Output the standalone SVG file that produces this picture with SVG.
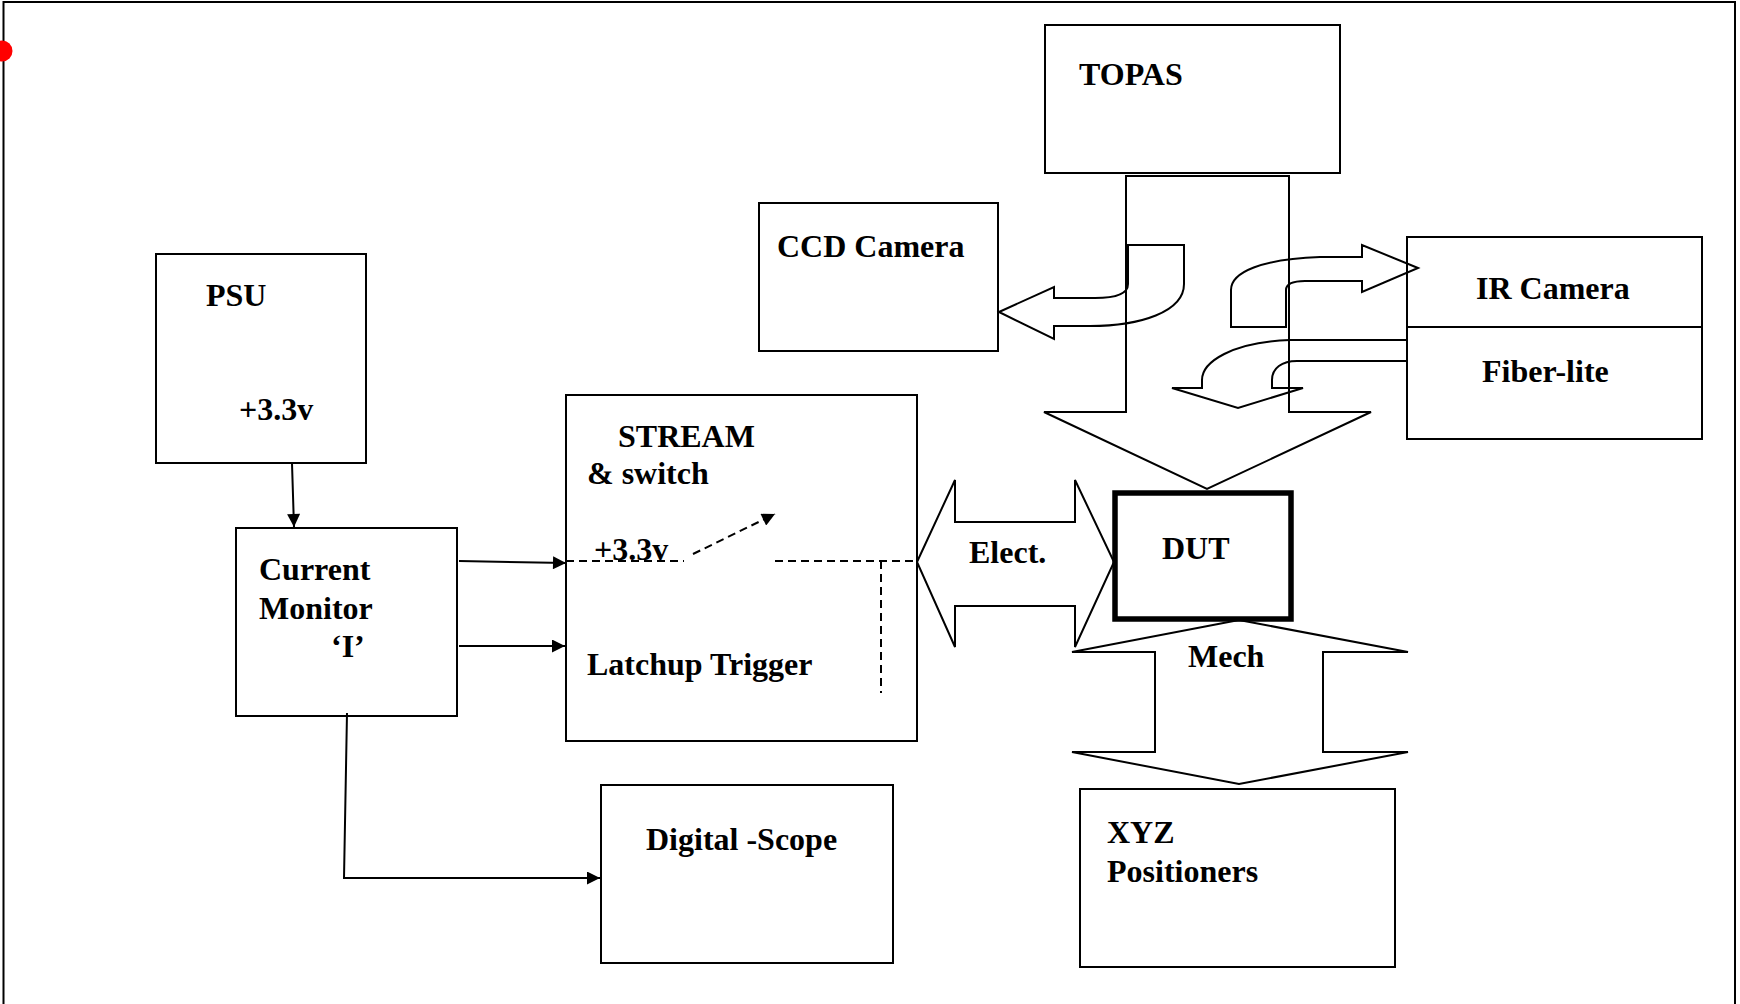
<svg xmlns="http://www.w3.org/2000/svg" width="1740" height="1004" viewBox="0 0 1740 1004">
<style>
.box{fill:#fff;stroke:#000;stroke-width:2}
.dut{fill:#fff;stroke:#000;stroke-width:5.5}
.lbl{font-family:"Liberation Serif","Times New Roman",serif;font-weight:bold;font-size:32px;fill:#000}
.ln{stroke:#000;stroke-width:2;fill:none}
.dash{stroke-dasharray:8 5}
.blk{fill:none;stroke:#000;stroke-width:2;stroke-linejoin:miter}
</style>
<defs>
<marker id="ah" viewBox="0 0 10 10" refX="10" refY="5" markerWidth="14" markerHeight="13" markerUnits="userSpaceOnUse" orient="auto">
<path d="M0,0 L10,5 L0,10 Z" fill="#000"/>
</marker>
</defs>
<rect x="0" y="0" width="1740" height="1004" fill="#fff"/>
<g id="frame">
<path class="ln" d="M3.5 1004 L3.5 2 L1735 2 L1735 1004"/>
<circle cx="2" cy="51" r="10.5" fill="#f00"/>
</g>
<g id="topas"><rect class="box" x="1045" y="25" width="295" height="148"/><text class="lbl" x="1079" y="85">TOPAS</text></g>
<g id="ccd"><rect class="box" x="759" y="203" width="239" height="148"/><text class="lbl" x="777" y="257">CCD Camera</text></g>
<g id="psu"><rect class="box" x="156" y="254" width="210" height="209"/><text class="lbl" x="206" y="306">PSU</text><text class="lbl" x="239" y="420">+3.3v</text></g>
<g id="ir-fiber"><rect class="box" x="1407" y="237" width="295" height="202"/><line class="ln" x1="1407" y1="327" x2="1702" y2="327"/><text class="lbl" x="1476" y="299">IR Camera</text><text class="lbl" x="1482" y="382">Fiber-lite</text></g>
<g id="stream"><rect class="box" x="566" y="395" width="351" height="346"/><text class="lbl" x="618" y="447">STREAM</text><text class="lbl" x="587" y="484">&amp; switch</text><text class="lbl" x="594" y="560">+3.3v</text><text class="lbl" x="587" y="675">Latchup Trigger</text></g>
<g id="current-monitor"><rect class="box" x="236" y="528" width="221" height="188"/><text class="lbl" x="259" y="580">Current</text><text class="lbl" x="259" y="619">Monitor</text><text class="lbl" x="331" y="657">‘I’</text></g>
<g id="dut"><rect class="dut" x="1115" y="493" width="176" height="126"/><text class="lbl" x="1162" y="559">DUT</text></g>
<g id="scope"><rect class="box" x="601" y="785" width="292" height="178"/><text class="lbl" x="646" y="850">Digital -Scope</text></g>
<g id="xyz"><rect class="box" x="1080" y="789" width="315" height="178"/><text class="lbl" x="1107" y="843">XYZ</text><text class="lbl" x="1107" y="882">Positioners</text></g>
<g id="connectors">
<line class="ln" x1="292" y1="463" x2="294" y2="527" marker-end="url(#ah)"/>
<line class="ln" x1="459" y1="561" x2="566" y2="563" marker-end="url(#ah)"/>
<line class="ln" x1="459" y1="646" x2="565" y2="646" marker-end="url(#ah)"/>
<polyline class="ln" points="347,713 344,878 600,878" marker-end="url(#ah)"/>
<line class="ln dash" x1="566" y1="561" x2="684" y2="561"/>
<line class="ln dash" x1="693" y1="554" x2="775" y2="514" marker-end="url(#ah)"/>
<line class="ln dash" x1="775" y1="561" x2="917" y2="561"/>
<line class="ln dash" x1="881" y1="561" x2="881" y2="693"/>
<path class="blk" d="M1126 176 L1289 176 L1289 412 L1371 412 L1207 489 L1044 412 L1126 412 Z"/>
<path class="blk" d="M999 312 L1054 287 L1054 298 L1095 298 C1115 298 1128 294 1128 284 L1128 245 L1184 245 L1184 284 C1184 312 1140 326 1090 326 L1054 326 L1054 339 Z"/>
<path class="blk" d="M1418 268 L1362 245 L1362 257 L1320 257 C1262 259 1231 272 1231 290 L1231 327 L1286 327 L1286 290 C1286 284 1292 281 1305 281 L1362 281 L1362 292 Z"/>
<path class="blk" d="M1407 340 L1290 340 C1232 342 1202 362 1202 380 L1202 388 L1172 388 L1238 408 L1303 388 L1272 388 L1272 380 C1272 368 1282 361 1297 361 L1407 361"/>
<path class="blk" d="M917 562 L955 480 L955 522 L1075 522 L1075 480 L1114 562 L1075 647 L1075 606 L955 606 L955 647 Z"/>
<text class="lbl" x="969" y="563">Elect.</text>
<path class="blk" d="M1239 620 L1408 652 L1323 652 L1323 752 L1408 752 L1239 784 L1072 752 L1155 752 L1155 652 L1072 652 Z"/>
<text class="lbl" x="1188" y="667">Mech</text>
</g>
</svg>
